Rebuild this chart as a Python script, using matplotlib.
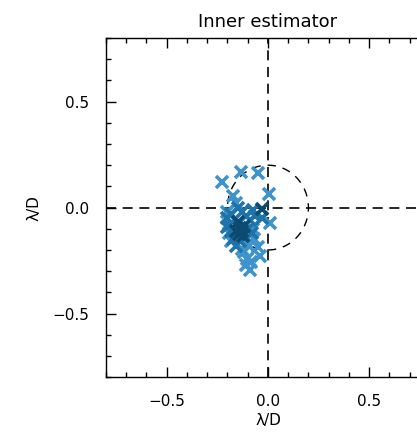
import numpy as np
import matplotlib.pyplot as plt
from matplotlib.patches import Circle
from matplotlib.ticker import MultipleLocator

# estimated positions (lambda/D), grouped by shade
light_x = [-0.228, -0.134, -0.048, 0.005, 0.010, -0.048, -0.040, -0.089, -0.105,
           -0.130, -0.171, -0.200, -0.190, -0.120, -0.070, -0.085, -0.110, -0.160,
           -0.180, -0.095, -0.075]
light_y = [0.120, 0.169, 0.164, 0.065, -0.071, -0.187, -0.230, -0.296, -0.242,
           -0.195, 0.053, -0.020, -0.120, -0.210, -0.150, -0.255, -0.270, 0.020,
           -0.160, -0.180, -0.100]

mid_x = [-0.072, -0.200, -0.190, -0.180, -0.170, -0.160, -0.140, -0.120, -0.100,
         -0.090, -0.080, -0.130, -0.150, -0.110, -0.180, -0.200, -0.065, -0.030]
mid_y = [-0.010, -0.050, -0.080, -0.030, -0.150, -0.180, -0.160, -0.130, -0.100,
         -0.060, -0.120, -0.020, 0.000, -0.040, -0.110, -0.090, -0.040, -0.050]

dark_x = [-0.031, -0.150, -0.140, -0.130, -0.160, -0.120, -0.145, -0.125]
dark_y = [-0.009, -0.070, -0.095, -0.110, -0.110, -0.085, -0.125, -0.135]

circle_r = 0.2

fig = plt.figure(figsize=(4.17, 4.37), dpi=100)
ax = fig.add_axes([0.254, 0.137, 0.777, 0.776])

ax.axhline(0, color='black', ls=(0, (6, 4)), lw=1.2, zorder=1)
ax.axvline(0, color='black', ls=(0, (6, 4)), lw=1.2, zorder=1)
ax.add_patch(Circle((0, 0), circle_r, fill=False, ec='black',
                    ls=(0, (6, 5)), lw=1.0, zorder=1))

kw = dict(marker='x', ls='none', ms=8, mew=2.6, zorder=3)
ax.plot(light_x, light_y, color='#3f93cc', **kw)
ax.plot(mid_x, mid_y, color='#1f73ab', **kw)
ax.plot(dark_x, dark_y, color='#0d4a72', **kw)

ax.set_xlim(-0.8, 0.8)
ax.set_ylim(-0.8, 0.8)
ax.xaxis.set_major_locator(MultipleLocator(0.5))
ax.yaxis.set_major_locator(MultipleLocator(0.5))
ax.xaxis.set_minor_locator(MultipleLocator(0.1))
ax.yaxis.set_minor_locator(MultipleLocator(0.1))
for s in ax.spines.values():
    s.set_linewidth(1.0)
ax.tick_params(which='both', direction='in', top=True, right=True,
               labelsize=11, pad=12, width=1.0)
ax.tick_params(which='major', length=7)
ax.tick_params(which='minor', length=3.5)

ax.set_title('Inner estimator', fontsize=13, pad=8)
ax.set_xlabel('λ/D', fontsize=11, labelpad=3)
ax.set_ylabel('λ/D', fontsize=11, labelpad=8)

plt.savefig('out.png', dpi=100)
